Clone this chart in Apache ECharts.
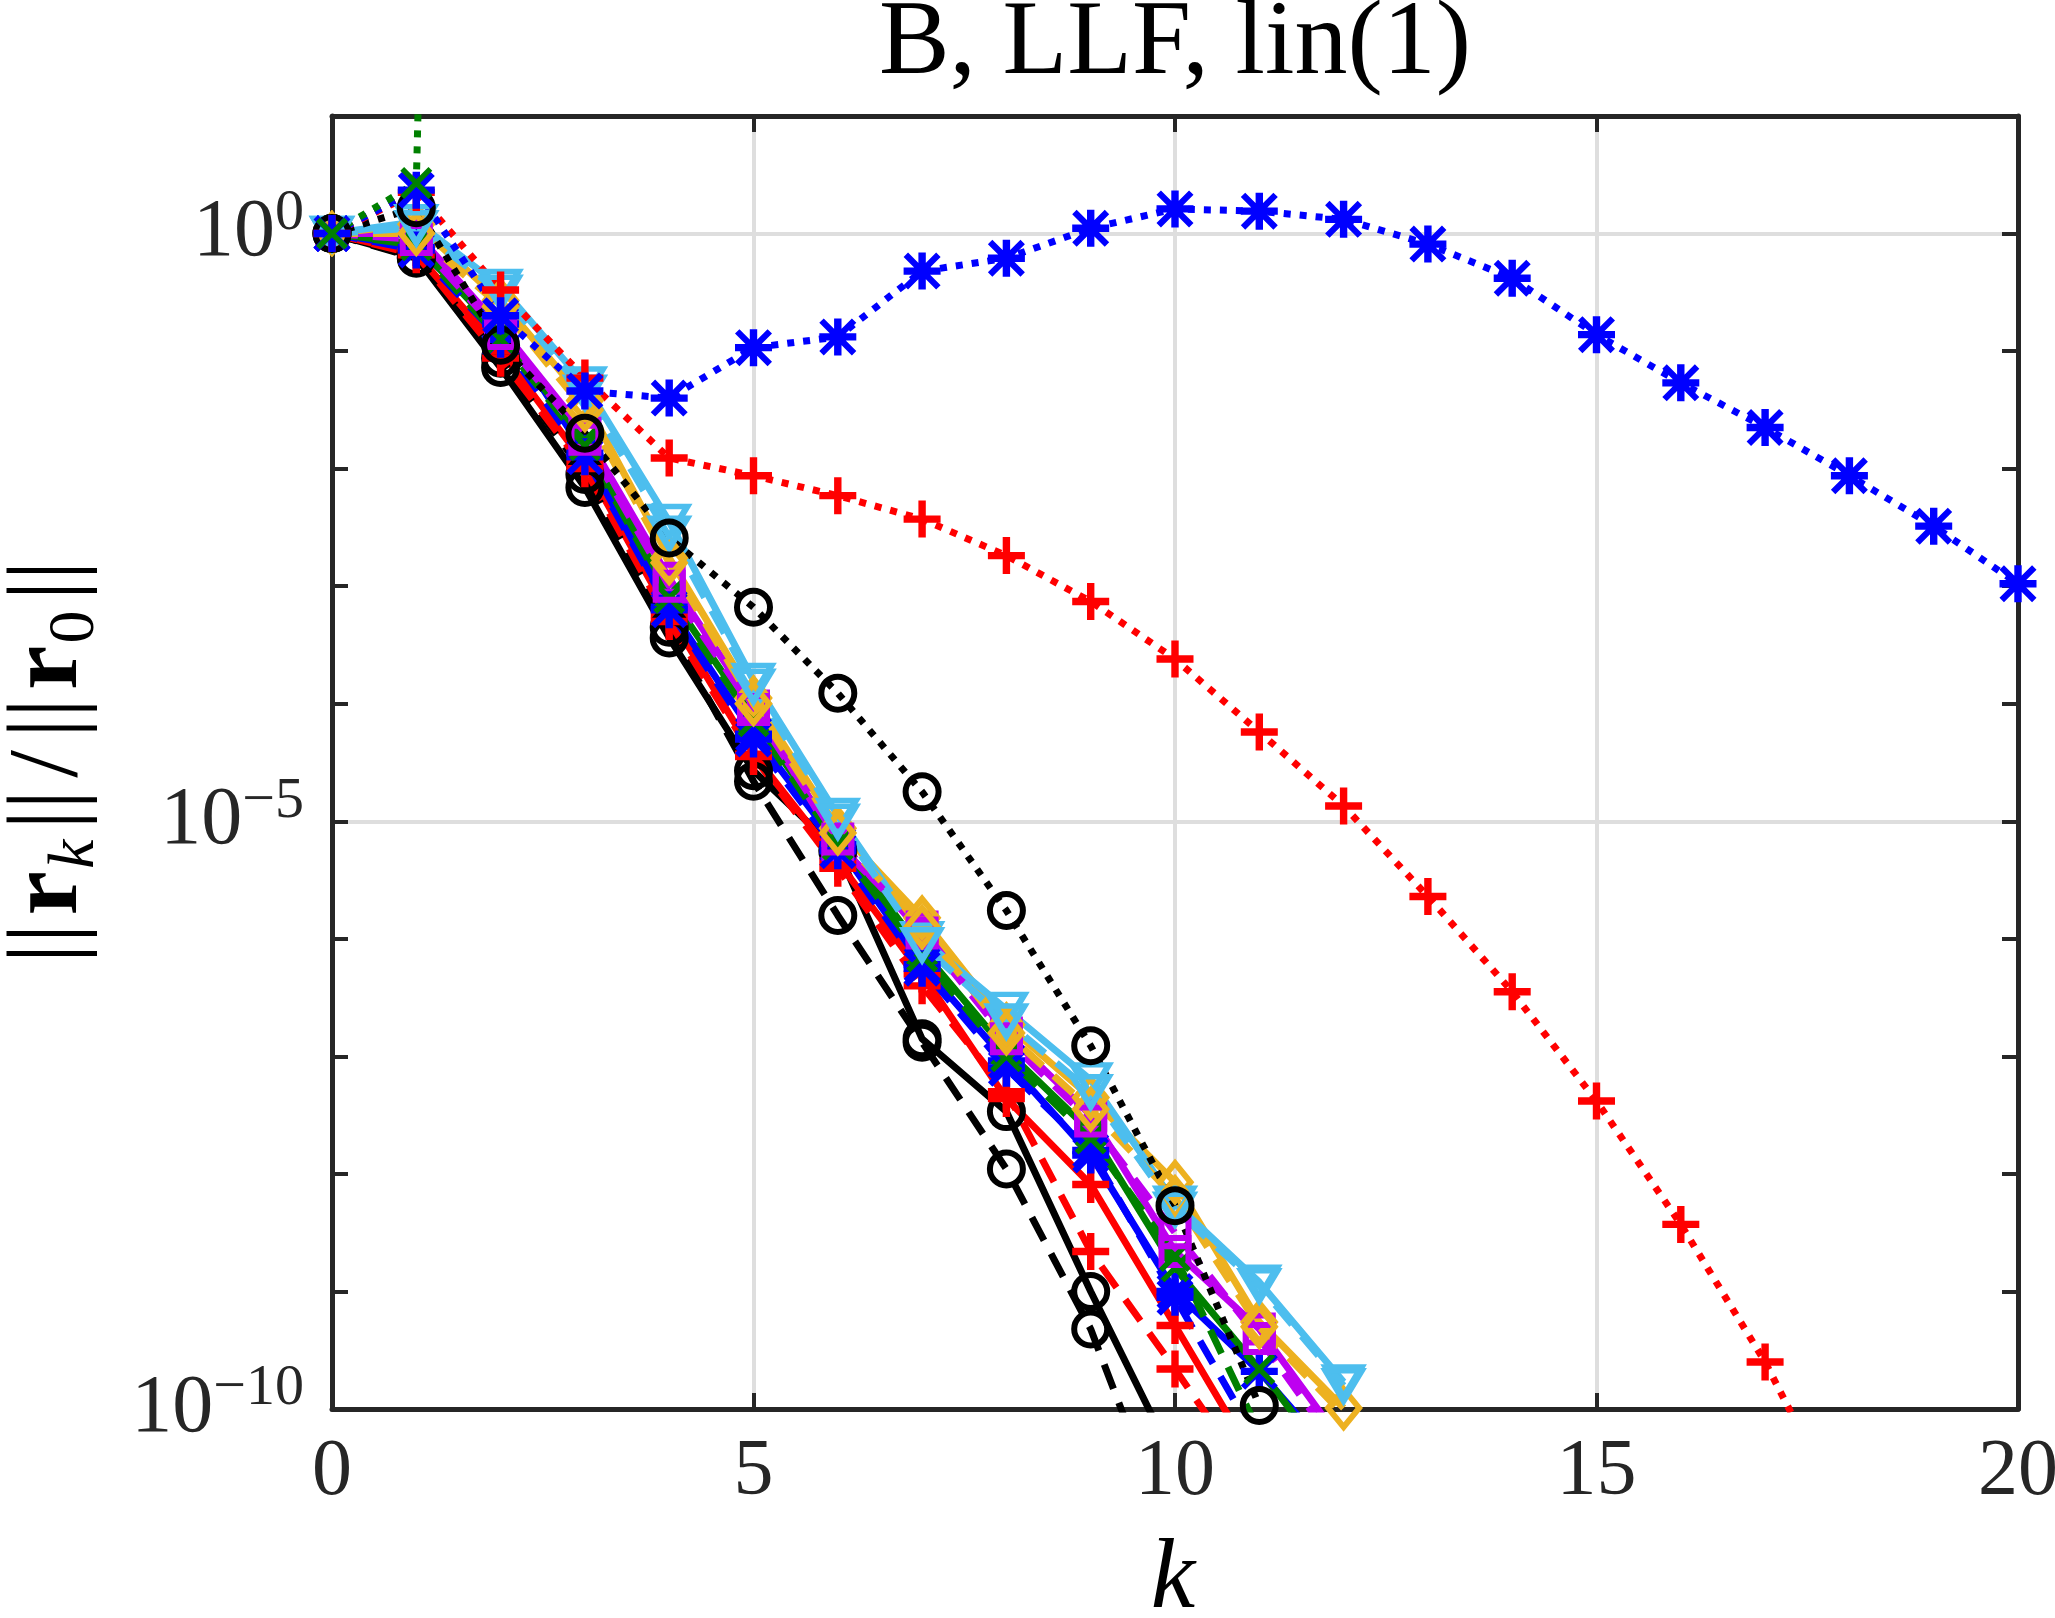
<!DOCTYPE html>
<html lang="en">
<head>
<meta charset="UTF-8">
<title>B, LLF, lin(1)</title>
<script src="https://cdn.jsdelivr.net/npm/echarts@6/dist/echarts.min.js"></script>
<style>
    html, body {margin: 0; padding: 0; background: #fff;}
    #chart {width: 2055px; height: 1618px;}
</style>
</head>
<body>
<div id="chart"></div>
<script type="text/javascript">
// iteration index k
var kValues = [0, 1, 2, 3, 4, 5, 6, 7, 8, 9, 10, 11, 12, 13, 14, 15, 16, 17, 18, 19, 20];
var xTickLabels = [0, 5, 10, 15, 20];
var yLabelExponents = [-10, -5, 0];

// ||r_k|| / ||r_0||
var blackSolid    = [1, 6.31e-1, 7.24e-2, 6.92e-3, 3.63e-4, 2.69e-5, 5.62e-6, 1.41e-7, 3.39e-8, 1.0e-9, 3.55e-11];
var blackDashed   = [1, 6.17e-1, 8.71e-2, 8.91e-3, 4.47e-4, 2.19e-5, 1.58e-6, 1.32e-7, 1.10e-8, 4.79e-10, 6.31e-12];
var blackDotted   = [1, 1.66, 1.12e-1, 2.0e-2, 2.57e-3, 6.61e-4, 1.23e-4, 1.78e-5, 1.74e-6, 1.23e-7, 5.37e-9, 1.07e-10];

var redSolid      = [1, 6.76e-1, 1.0e-1, 1.10e-2, 5.75e-4, 3.72e-5, 4.57e-6, 5.01e-7, 4.37e-8, 8.13e-9, 5.13e-10, 3.16e-11];
var redDashed     = [1, 6.61e-1, 8.71e-2, 1.0e-2, 5.01e-4, 3.55e-5, 3.98e-6, 3.98e-7, 5.01e-8, 2.19e-9, 2.19e-10, 2.0e-11];
var redDotted     = [1, 2.24, 3.31e-1, 5.89e-2, 1.23e-2, 8.71e-3, 5.89e-3, 3.72e-3, 1.82e-3, 7.41e-4, 2.40e-4,
                     5.75e-5, 1.35e-5, 2.29e-6, 3.55e-7, 4.17e-8, 3.72e-9, 2.51e-10, 1.0e-11];

var blueSolid     = [1, 7.59e-1, 1.70e-1, 1.35e-2, 6.61e-4, 5.50e-5, 6.31e-6, 6.03e-7, 9.12e-8, 1.45e-8, 1.0e-9, 2.09e-10, 3.16e-11];
var blueDashed    = [1, 7.24e-1, 1.26e-1, 1.26e-2, 6.31e-4, 5.01e-5, 5.62e-6, 5.62e-7, 7.94e-8, 1.58e-8, 8.91e-10, 5.01e-11];
var blueDotted    = [1, 2.34, 2.0e-1, 4.57e-2, 3.98e-2, 1.07e-1, 1.32e-1, 4.79e-1, 6.17e-1, 1.11, 1.62,
                     1.55, 1.32, 8.13e-1, 4.17e-1, 1.38e-1, 5.37e-2, 2.24e-2, 8.71e-3, 3.24e-3, 1.05e-3];

var greenSolid    = [1, 8.13e-1, 1.41e-1, 1.74e-2, 8.51e-4, 7.59e-5, 7.08e-6, 7.94e-7, 1.12e-7, 2.29e-8, 1.58e-9, 2.19e-10, 2.51e-11];
var greenDashed   = [1, 7.94e-1, 1.26e-1, 1.58e-2, 7.94e-4, 7.08e-5, 6.31e-6, 7.08e-7, 1.0e-7, 2.0e-8, 2.0e-9, 6.31e-11];
var greenDotted   = [1, 2.69, 1e30];   // blows up after k = 1

var magentaSolid  = [1, 1.0, 1.58e-1, 2.0e-2, 1.17e-3, 9.55e-5, 6.31e-6, 1.26e-6, 1.58e-7, 3.16e-8, 2.19e-9, 4.79e-10, 5.01e-11];
var magentaDashed = [1, 8.91e-1, 1.41e-1, 1.78e-2, 1.0e-3, 8.91e-5, 7.08e-6, 1.12e-6, 1.41e-7, 2.82e-8, 3.16e-9, 3.98e-10, 3.98e-11];

var orangeSolid   = [1, 1.20, 2.69e-1, 3.80e-2, 1.74e-3, 1.12e-4, 8.71e-6, 1.51e-6, 1.86e-7, 4.47e-8, 8.51e-9, 5.50e-10, 1.02e-10];
var orangeDashed  = [1, 1.0, 2.40e-1, 3.16e-2, 1.58e-3, 1.0e-4, 7.94e-6, 1.26e-6, 1.58e-7, 3.55e-8, 6.31e-9, 5.01e-10, 8.91e-11];

var cyanSolid     = [1, 1.26, 3.55e-1, 5.25e-2, 3.55e-3, 1.58e-4, 1.12e-5, 1.0e-6, 2.51e-7, 6.31e-8, 5.62e-9, 1.20e-9, 1.70e-10];
var cyanDashed    = [1, 1.12, 3.16e-1, 4.47e-2, 2.82e-3, 1.41e-4, 1.0e-5, 8.91e-7, 2.0e-7, 5.01e-8, 5.01e-9, 1.12e-9, 1.58e-10];

var FONT = "'Liberation Serif', 'DejaVu Serif', serif";
var AXIS_COLOR = '#262626';
var LINE_W = 7;

// matlab-like markers
var markers = {
    circle:   {symbol: 'circle', size: 33, hollow: true},
    plus:     {symbol: 'path://M40,0H60V40H100V60H60V100H40V60H0V40H40Z', size: 37},
    star:     {symbol: 'path://M40,0H60V40H100V60H60V100H40V60H0V40H40Z M0,12L12,0L100,88L88,100Z M88,0L100,12L12,100L0,88Z', size: 37},
    cross:    {symbol: 'path://M0,12L12,0L100,88L88,100Z M88,0L100,12L12,100L0,88Z', size: 32},
    square:   {symbol: 'rect', size: 27, hollow: true},
    diamond:  {symbol: 'diamond', size: [31, 38], hollow: true},
    triangle: {symbol: 'triangle', size: [36, 30], hollow: true, rotate: 180}
};

var dashes = {
    solid: 'solid',
    dashed: [26, 15],
    dotted: [7, 9]
};

function makeSeries(values, color, markerName, dashName) {
    var m = markers[markerName];
    return {
        type: 'line',
        data: values.map(function (v, i) { return [kValues[i], v]; }),
        xAxisIndex: 0,
        yAxisIndex: 0,
        symbol: m.symbol,
        symbolSize: m.size,
        symbolRotate: m.rotate || 0,
        showAllSymbol: true,
        clip: true,
        lineStyle: {color: color, width: LINE_W, type: dashes[dashName]},
        itemStyle: m.hollow
            ? {color: 'rgba(0,0,0,0)', borderColor: color, borderWidth: 6}
            : {color: color, borderWidth: 0},
        emphasis: {disabled: true}
    };
}

var seriesList = [
    makeSeries(blackSolid,    '#000000', 'circle',   'solid'),
    makeSeries(redSolid,      '#FF0000', 'plus',     'solid'),
    makeSeries(blueSolid,     '#0000FF', 'star',     'solid'),
    makeSeries(greenSolid,    '#008000', 'cross',    'solid'),
    makeSeries(magentaSolid,  '#BE00F0', 'square',   'solid'),
    makeSeries(orangeSolid,   '#EDB120', 'diamond',  'solid'),
    makeSeries(cyanSolid,     '#4DBEEE', 'triangle', 'solid'),

    makeSeries(blackDashed,   '#000000', 'circle',   'dashed'),
    makeSeries(redDashed,     '#FF0000', 'plus',     'dashed'),
    makeSeries(blueDashed,    '#0000FF', 'star',     'dashed'),
    makeSeries(greenDashed,   '#008000', 'cross',    'dashed'),
    makeSeries(magentaDashed, '#BE00F0', 'square',   'dashed'),
    makeSeries(orangeDashed,  '#EDB120', 'diamond',  'dashed'),
    makeSeries(cyanDashed,    '#4DBEEE', 'triangle', 'dashed'),

    makeSeries(blackDotted,   '#000000', 'circle',   'dotted'),
    makeSeries(redDotted,     '#FF0000', 'plus',     'dotted'),
    makeSeries(blueDotted,    '#0000FF', 'star',     'dotted'),
    makeSeries(greenDotted,   '#008000', 'cross',    'dotted')
];

var axisLine = {show: true, onZero: false, lineStyle: {color: AXIS_COLOR, width: 5}};
var axisTick = {show: true, inside: true, length: 16, lineStyle: {color: AXIS_COLOR, width: 4}};
var gridLine = {show: true, lineStyle: {color: '#dedede', width: 4}};

function expLabel(v) {
    var e = Math.round(Math.log10(v));
    if (yLabelExponents.indexOf(e) < 0) return '';
    return '{b|10}{e|' + (e < 0 ? '\u2212' + (-e) : e) + '}';
}

var chart = echarts.init(document.getElementById('chart'), null, {renderer: 'canvas'});
chart.setOption({
    animation: false,
    backgroundColor: '#ffffff',
    title: {
        text: 'B, LLF, lin(1)',
        left: 1170,
        top: -13,
        textAlign: 'center',
        textStyle: {fontFamily: FONT, fontSize: 106, fontWeight: 'normal', color: '#000'}
    },
    grid: {left: 332, right: 37, top: 116, bottom: 209, containLabel: false, outerBoundsMode: 'none'},
    xAxis: [{
        type: 'value', position: 'bottom', min: 0, max: 20, interval: 5,
        axisLine: axisLine, axisTick: axisTick, splitLine: gridLine,
        axisLabel: {
            margin: 24, fontFamily: FONT, fontSize: 80, color: AXIS_COLOR,
            formatter: function (v) { return xTickLabels.indexOf(v) >= 0 ? String(v) : ''; }
        }
    }, {
        type: 'value', position: 'top', min: 0, max: 20, interval: 5,
        axisLine: axisLine, axisTick: axisTick, splitLine: {show: false}, axisLabel: {show: false}
    }],
    yAxis: [{
        type: 'log', logBase: 10, position: 'left', min: 1e-10, max: 10, interval: 1, splitNumber: 11,
        axisLine: axisLine, axisTick: axisTick, splitLine: {show: false},
        axisLabel: {
            margin: 28, formatter: expLabel,
            rich: {
                b: {fontFamily: FONT, fontSize: 82, color: AXIS_COLOR},
                e: {fontFamily: FONT, fontSize: 58, color: AXIS_COLOR, padding: [0, 0, 40, 0]}
            }
        }
    }, {
        type: 'log', logBase: 10, position: 'right', min: 1e-10, max: 10, interval: 1, splitNumber: 11,
        axisLine: axisLine, axisTick: axisTick, splitLine: {show: false}, axisLabel: {show: false}
    }, {
        // grid lines only at the labelled decades
        type: 'log', logBase: 10, position: 'left', min: 1e-10, max: 10, interval: 5, splitNumber: 2,
        axisLine: {show: false}, axisTick: {show: false}, axisLabel: {show: false}, splitLine: gridLine
    }],
    graphic: [{
        type: 'text', x: 1173, y: 1581, z: 10,
        style: {
            text: 'k', fill: '#000', font: 'italic 100px ' + FONT,
            align: 'center', verticalAlign: 'middle'
        }
    }, {
        type: 'text', x: 50, y: 762, rotation: Math.PI / 2, z: 10,
        style: {
            text: '{n|||}{r|r}{s|k}{n|||}{d|/}{n|||}{r|r}{t|0}{n|||}',
            align: 'center', verticalAlign: 'middle',
            rich: {
                n: {fontFamily: FONT, fontSize: 100, fill: '#000'},
                d: {fontFamily: FONT, fontSize: 100, fill: '#000', padding: [0, 12, 0, 12]},
                r: {fontFamily: FONT, fontSize: 100, fontWeight: 'bold', fill: '#000', padding: [0, 2, 0, 8]},
                s: {fontFamily: FONT, fontSize: 66, fontStyle: 'italic', fill: '#000', padding: [52, 10, 0, 0]},
                t: {fontFamily: FONT, fontSize: 66, fill: '#000', padding: [52, 10, 0, 0]}
            }
        }
    }],
    series: seriesList
});
</script>
</body>
</html>
